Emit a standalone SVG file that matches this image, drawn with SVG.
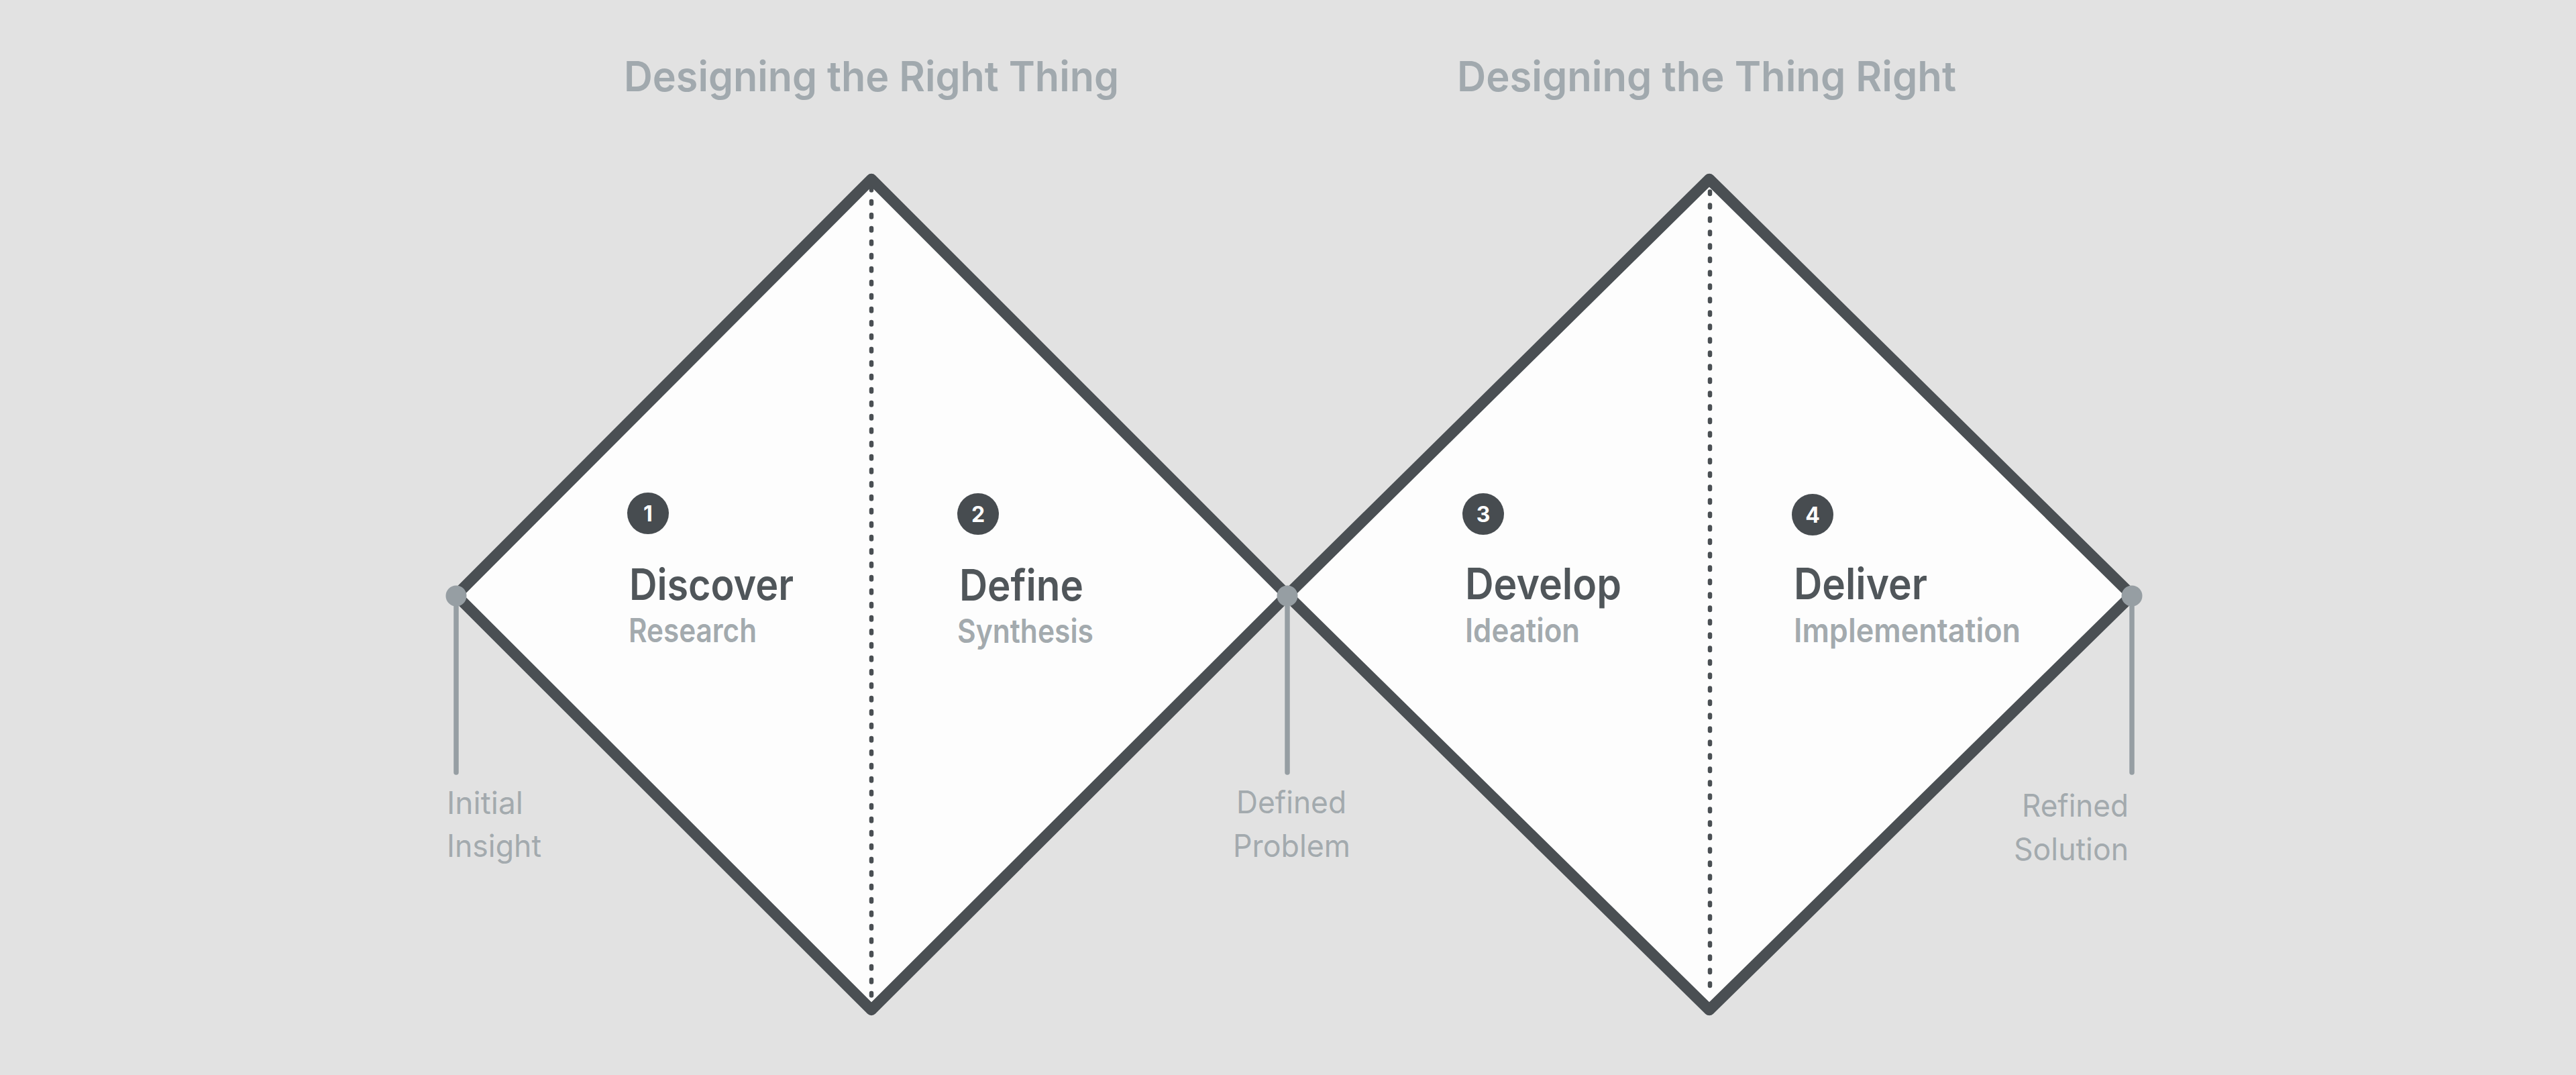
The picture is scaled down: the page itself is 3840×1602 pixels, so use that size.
<svg xmlns="http://www.w3.org/2000/svg" width="3840" height="1602" viewBox="0 0 3840 1602">
<style>
.bg{fill:#e2e2e2}
.dia{fill:#fdfdfd;stroke:#4a4f53;stroke-width:16.5;stroke-linejoin:round}
.dots{stroke:#4a4f53;stroke-width:6.5;stroke-dasharray:3.5 16.5;stroke-linecap:round;fill:none}
.pin{stroke:#969ea3;stroke-width:7.5;stroke-linecap:round;fill:none}
.pindot{fill:#969ea3}
.title{font-family:Inter,"Noto Sans",sans-serif;font-weight:600;font-size:62px;fill:#a1a9ae}
.phase{font-family:Inter,"Noto Sans",sans-serif;font-weight:600;font-size:64px;fill:#50565a}
.sub{font-family:Inter,"Noto Sans",sans-serif;font-weight:600;font-size:49px;fill:#a3aaae}
.num{font-family:Inter,"Noto Sans",sans-serif;font-weight:700;font-size:32px;fill:#ffffff;text-anchor:middle}
.badge{fill:#474c50}
.lbl{font-family:Inter,"Noto Sans",sans-serif;font-weight:400;font-size:46px;fill:#a3aaae}
</style>
<rect class="bg" x="0" y="0" width="3840" height="1602"/>

<g id="title-right-thing"><text class="title" x="930" y="136" textLength="738" lengthAdjust="spacingAndGlyphs">Designing the Right Thing</text></g>
<g id="title-thing-right"><text class="title" x="2172" y="136" textLength="744" lengthAdjust="spacingAndGlyphs">Designing the Thing Right</text></g>

<g id="diamond-2">
<polygon class="dia" points="1919,887 2548,267 3178,887 2548,1505"/>
<line class="dots" x1="2549" y1="285.5" x2="2549" y2="1485"/>
</g>
<g id="diamond-1">
<polygon class="dia" points="680,887 1299,267 1919,887 1299,1505"/>
<line class="dots" x1="1299" y1="280" x2="1299" y2="1485"/>
</g>

<g id="phase-discover">
<circle class="badge" cx="966" cy="765" r="31"/>
<text class="num" x="966" y="777">1</text>
<text class="phase" x="938" y="894" textLength="245" lengthAdjust="spacingAndGlyphs">Discover</text>
<text class="sub" x="937" y="957" textLength="191" lengthAdjust="spacingAndGlyphs">Research</text>
</g>
<g id="phase-define">
<circle class="badge" cx="1458" cy="766" r="31"/>
<text class="num" x="1458" y="778">2</text>
<text class="phase" x="1430" y="895" textLength="185" lengthAdjust="spacingAndGlyphs">Define</text>
<text class="sub" x="1427" y="958" textLength="203" lengthAdjust="spacingAndGlyphs">Synthesis</text>
</g>
<g id="phase-develop">
<circle class="badge" cx="2211" cy="766" r="31"/>
<text class="num" x="2211" y="778">3</text>
<text class="phase" x="2184" y="893" textLength="233" lengthAdjust="spacingAndGlyphs">Develop</text>
<text class="sub" x="2184" y="957" textLength="171" lengthAdjust="spacingAndGlyphs">Ideation</text>
</g>
<g id="phase-deliver">
<circle class="badge" cx="2702" cy="767" r="31"/>
<text class="num" x="2702" y="779">4</text>
<text class="phase" x="2674" y="893" textLength="199" lengthAdjust="spacingAndGlyphs">Deliver</text>
<text class="sub" x="2674" y="957" textLength="338" lengthAdjust="spacingAndGlyphs">Implementation</text>
</g>

<g id="connectors">
<line class="pin" x1="680" y1="888" x2="680" y2="1151"/>
<circle class="pindot" cx="680" cy="888" r="15.5"/>
<line class="pin" x1="1919" y1="888" x2="1919" y2="1151"/>
<circle class="pindot" cx="1919" cy="888" r="15.5"/>
<line class="pin" x1="3178" y1="888" x2="3178" y2="1151"/>
<circle class="pindot" cx="3178" cy="888" r="15.5"/>
</g>

<g id="label-initial-insight">
<text class="lbl" x="666" y="1213" textLength="114" lengthAdjust="spacingAndGlyphs">Initial</text>
<text class="lbl" x="666" y="1277" textLength="141" lengthAdjust="spacingAndGlyphs">Insight</text>
</g>
<g id="label-defined-problem">
<text class="lbl" x="1843" y="1212" textLength="164" lengthAdjust="spacingAndGlyphs">Defined</text>
<text class="lbl" x="1838" y="1277" textLength="175" lengthAdjust="spacingAndGlyphs">Problem</text>
</g>
<g id="label-refined-solution">
<text class="lbl" x="3014" y="1217" textLength="159" lengthAdjust="spacingAndGlyphs">Refined</text>
<text class="lbl" x="3002" y="1282" textLength="171" lengthAdjust="spacingAndGlyphs">Solution</text>
</g>
</svg>
